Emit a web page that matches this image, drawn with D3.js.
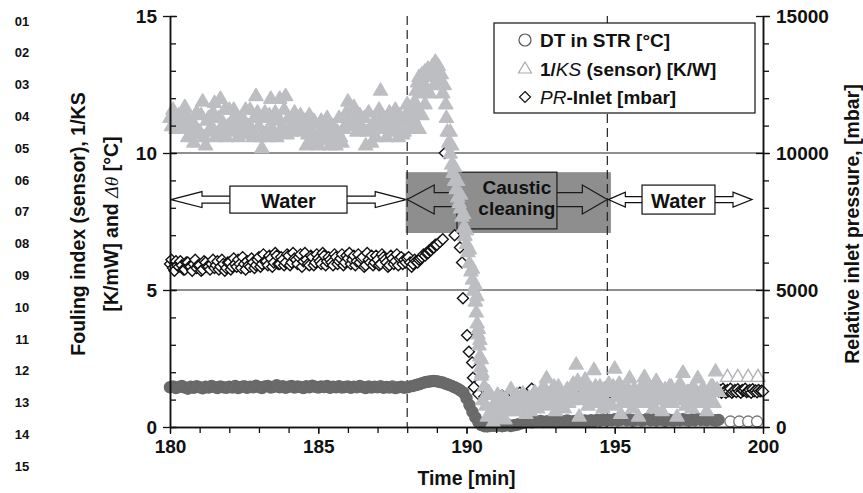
<!DOCTYPE html>
<html>
<head>
<meta charset="utf-8">
<script src="https://cdn.jsdelivr.net/npm/d3@7"></script>
<style>
  body { margin: 0; background: #fff; }
  svg { display: block; }
  text { font-family: "Liberation Sans", Arial, Helvetica, sans-serif; font-weight: bold; fill: #111; }
</style>
</head>
<body>
<svg width="863" height="493"></svg>
<script>
// ---- data ----
var xTicks = [180, 185, 190, 195, 200];
var yTicks = [0, 5, 10, 15];
var y2Ticks = [0, 5000, 10000, 15000];
var lineNumbers = ['01','02','03','04','05','06','07','08','09','10','11','12','13','14','15'];

// DT in STR [°C], sampled every 0.1 min from 180.0 to 198.5
var dtStart = 180, dtStep = 0.1;
var dtValues = [
  1.45, 1.48, 1.42, 1.46, 1.50, 1.44, 1.40, 1.47, 1.43, 1.49,
  1.45, 1.41, 1.47, 1.44, 1.50, 1.46, 1.42, 1.48, 1.45, 1.43,
  1.47, 1.44, 1.50, 1.42, 1.46, 1.49, 1.43, 1.47, 1.45, 1.51,
  1.46, 1.42, 1.48, 1.50, 1.44, 1.47, 1.52, 1.45, 1.49, 1.43,
  1.47, 1.50, 1.44, 1.48, 1.46, 1.42, 1.49, 1.45, 1.51, 1.47,
  1.44, 1.48, 1.46, 1.50, 1.43, 1.47, 1.45, 1.49, 1.44, 1.46,
  1.48, 1.43, 1.47, 1.45, 1.50, 1.46, 1.42, 1.48, 1.44, 1.47,
  1.45, 1.49, 1.43, 1.46, 1.44, 1.48, 1.42, 1.45, 1.47, 1.43,
  1.45, 1.48, 1.50, 1.53, 1.56, 1.60, 1.63, 1.65, 1.67, 1.68,
  1.67, 1.64, 1.62, 1.58, 1.54, 1.50, 1.45, 1.40, 1.33, 1.25,
  1.05, 0.80, 0.55, 0.35, 0.18, 0.07, 0.03, 0.02, 0.04, 0.05,
  0.04, 0.06, 0.03, 0.05, 0.07, 0.04, 0.06, 0.08, 0.12, 0.15,
  0.18, 0.20, 0.17, 0.21, 0.19, 0.22, 0.18, 0.20, 0.23, 0.19,
  0.21, 0.18, 0.22, 0.20, 0.24, 0.19, 0.21, 0.23, 0.20, 0.22,
  0.24, 0.21, 0.25, 0.22, 0.26, 0.23, 0.27, 0.24, 0.26, 0.25,
  0.28, 0.24, 0.26, 0.29, 0.25, 0.27, 0.23, 0.26, 0.28, 0.24,
  0.26, 0.29, 0.25, 0.27, 0.24, 0.28, 0.26, 0.23, 0.27, 0.25,
  0.24, 0.27, 0.25, 0.28, 0.26, 0.24, 0.27, 0.25, 0.29, 0.26,
  0.27, 0.25, 0.28, 0.26, 0.24, 0.26
];
// sparse readings at the end [time, value]
var dtTail = [[198.9, 0.2], [199.2, 0.2], [199.5, 0.2], [199.8, 0.2]];

// 1/KS (sensor) [K/W], every 0.1 min from 180.0 to 188.2 ...
var ksStart = 180, ksStep = 0.1;
var ksValues = [
  11.3, 11.6, 10.9, 11.4, 11.1, 11.7, 10.6, 11.2, 10.4, 11.5,
  10.8, 11.9, 10.3, 11.3, 11.0, 11.85, 10.7, 12.0, 11.1, 10.6,
  11.6, 10.9, 11.4, 10.6, 11.3, 11.2, 10.7, 11.6, 10.6, 12.1,
  11.0, 10.2, 11.5, 10.6, 12.0, 11.2, 10.6, 12.0, 11.0, 12.1,
  11.3, 10.8, 11.5, 11.0, 11.4, 10.9, 10.3, 11.4, 10.5, 11.1,
  10.3, 11.2, 10.5, 11.3, 10.3, 11.0, 10.3, 11.3, 10.4, 11.0,
  11.9, 11.1, 11.7, 10.8, 11.4, 10.9, 10.3, 11.5, 10.4, 11.2,
  11.0, 12.3, 11.2, 10.6, 11.5, 10.9, 11.6, 10.6, 11.2, 10.8,
  11.8, 10.9, 11.3
];
// ... and the readings in between, from 180.05 to 188.15
var ksStartB = 180.05;
var ksValuesB = [
  11.0, 11.4, 11.2, 10.9, 11.5, 10.9, 11.3, 10.7, 11.0, 10.8,
  11.4, 10.6, 11.2, 10.8, 11.5, 10.6, 11.3, 10.9, 11.6, 11.0,
  11.1, 11.6, 10.8, 11.2, 10.9, 11.6, 11.0, 10.9, 11.3, 11.5,
  10.6, 11.3, 10.8, 11.4, 10.9, 11.5, 11.3, 10.8, 11.6, 10.7,
  11.0, 11.3, 10.9, 11.2, 10.8, 11.2, 10.7, 10.9, 11.2, 10.4,
  10.8, 10.6, 11.0, 10.7, 10.9, 10.5, 10.8, 10.6, 10.9, 11.5,
  11.3, 11.5, 11.0, 11.2, 11.0, 11.3, 10.8, 10.9, 11.0, 10.6,
  11.6, 11.4, 10.9, 11.2, 10.8, 11.3, 11.0, 11.4, 10.7, 11.4,
  11.2, 11.6
];
// peak and drop during cleaning [time, value]
var ksPeak = [
  [188.25, 11.9], [188.3, 11.0], [188.3, 12.3], [188.35, 11.6], [188.35, 12.6],
  [188.4, 12.8], [188.4, 10.9], [188.45, 12.2], [188.5, 12.9], [188.5, 11.4],
  [188.55, 12.5], [188.6, 13.0], [188.6, 11.8], [188.65, 12.4], [188.7, 13.1],
  [188.75, 12.2], [188.8, 12.8], [188.85, 13.2], [188.9, 12.5], [188.95, 13.35],
  [189.0, 12.8], [189.05, 13.2], [189.1, 12.6], [189.15, 12.9], [189.2, 12.2],
  [189.25, 12.5], [189.3, 11.8], [189.32, 11.3], [189.35, 10.8], [189.4, 10.4],
  [189.45, 10.0], [189.45, 10.8], [189.5, 9.6], [189.5, 10.3], [189.55, 9.3],
  [189.6, 9.0], [189.6, 9.5], [189.65, 8.7], [189.7, 8.4], [189.7, 9.0],
  [189.75, 8.2], [189.8, 8.0], [189.8, 8.5], [189.85, 7.7], [189.9, 7.3],
  [189.9, 7.8], [189.95, 7.0], [190.0, 6.7], [190.0, 7.2], [190.05, 6.4],
  [190.1, 6.0], [190.1, 6.5], [190.15, 5.7], [190.2, 5.4], [190.2, 5.8],
  [190.25, 5.0], [190.3, 4.6], [190.3, 5.2], [190.33, 4.2], [190.35, 4.8],
  [190.36, 3.8], [190.39, 3.4], [190.4, 3.6], [190.42, 3.0], [190.45, 2.6],
  [190.45, 3.2], [190.48, 2.2], [190.5, 2.5], [190.52, 2.0]
];
// after cleaning, every 0.1 min from 190.5 to 198.5 ...
var ksPostStart = 190.5, ksPostStep = 0.1;
var ksPost = [
  1.9, 1.5, 0.4, 1.2, 0.2, 1.0, 0.6, 1.1, 0.3, 0.9,
  1.4, 0.6, 1.2, 0.8, 1.25, 0.5, 1.1, 0.9, 1.3, 0.7,
  1.0, 1.5, 1.8, 0.8, 1.3, 0.6, 1.5, 1.1, 0.7, 1.4,
  1.0, 1.6, 2.3, 0.4, 1.2, 1.75, 0.8, 1.4, 2.1, 0.9,
  1.5, 0.7, 1.3, 1.6, 0.8, 2.15, 1.2, 0.5, 1.4, 1.0,
  1.8, 0.7, 1.3, 0.4, 1.5, 1.85, 0.9, 1.4, 0.7, 1.7,
  1.1, 0.6, 1.4, 0.9, 1.5, 1.2, 0.4, 1.6, 2.0, 0.8,
  1.3, 0.7, 1.2, 1.8, 0.9, 1.4, 0.6, 1.1, 1.5, 2.05,
  1.3
];
// ... and in between, from 190.55 to 198.45
var ksPostStartB = 190.55;
var ksPostB = [
  1.0, 0.8, 1.3, 0.5, 0.8, 1.2, 0.4, 0.7, 1.0, 0.6,
  1.0, 0.9, 0.7, 1.1, 0.8, 1.0, 0.6, 1.15, 0.8, 1.1,
  1.3, 0.9, 1.2, 1.0, 1.5, 0.9, 1.2, 1.0, 1.3, 0.9,
  1.4, 1.1, 1.7, 1.0, 1.5, 1.1, 1.3, 0.9, 1.5, 1.2,
  1.1, 1.4, 0.9, 1.3, 1.5, 1.1, 1.6, 0.9, 1.2, 1.4,
  1.1, 1.4, 0.9, 1.3, 1.1, 1.5, 1.2, 0.9, 1.4, 1.1,
  1.4, 1.0, 1.2, 1.5, 0.9, 1.3, 1.1, 1.4, 1.0, 1.3,
  1.0, 1.5, 0.9, 1.2, 1.4, 1.0, 1.3, 1.5, 0.9, 1.4
];
var ksTail = [[198.8, 1.85], [199.15, 1.85], [199.5, 1.85], [199.83, 1.85]];

// PR-Inlet [mbar], every 0.1 min from 180.0 to 189.2 ...
var prStart = 180, prStep = 0.1;
var prValues = [
  5950, 5800, 6050, 5850, 5900, 5750, 6000, 5850, 5950, 5800,
  5900, 5750, 6000, 5850, 5950, 5800, 6050, 5850, 5950, 5800,
  6000, 5850, 5950, 6100, 5800, 5950, 6050, 5850, 6000, 5900,
  6200, 5950, 6050, 5900, 6150, 6000, 6250, 5950, 6100, 6000,
  6250, 6000, 6150, 5950, 6300, 6050, 6100, 5900, 6200, 6000,
  6150, 5950, 6250, 6050, 6100, 5900, 6200, 6050, 6300, 6000,
  6150, 5950, 6250, 6050, 6000, 6200, 5900, 6100, 6250, 6000,
  6100, 5950, 6200, 6000, 5900, 6150, 6050, 5900, 6200, 6100,
  6150, 6000, 5950, 6050, 6100, 6200, 6250, 6350, 6450, 6550,
  6650, 6750, 6850
];
// ... and in between, from 180.05 to 188.95
var prStartB = 180.05;
var prValuesB = [
  6100, 5700, 5900, 6050, 5750, 6000, 5850, 5700, 6100, 5900,
  5700, 6050, 5850, 5750, 6100, 5900, 5750, 6100, 5700, 6000,
  5750, 6150, 5850, 5950, 6200, 5750, 5900, 6150, 5800, 6100,
  5850, 6300, 6050, 6250, 5850, 6350, 5950, 6200, 5900, 6300,
  5900, 6350, 6100, 6200, 5850, 6350, 5950, 6250, 5900, 6300,
  6050, 6350, 5900, 6200, 6000, 6300, 5950, 6150, 5900, 6250,
  6350, 6100, 5900, 6300, 6150, 5850, 6350, 6000, 5900, 6250,
  5900, 6300, 6100, 5850, 6250, 5950, 6300, 6150, 5950, 6000,
  6200, 5850, 6100, 6000, 6150, 6300, 6350, 6450, 6550, 6650
];
var prDrop = [
  [189.27, 10000], [189.6, 7000], [189.78, 6550], [189.85, 6000], [189.88, 4700],
  [190.02, 3350], [190.08, 2750], [190.19, 2350], [190.22, 1800], [190.25, 1450]
];
// every 0.2 min from 190.4 to 198.4
var prPostStart = 190.4, prPostStep = 0.2;
var prPost = [
  1200, 1100, 900, 1050, 1150, 1100, 1200, 1250, 1100, 1400,
  1150, 1250, 1100, 1200, 1150, 1300, 1150, 1100, 1200, 1150,
  1200, 1100, 1250, 1150, 1100, 1200, 1150, 1250, 1100, 1200,
  1150, 1100, 1250, 1150, 1200, 1100, 1150, 1200, 1150, 1250,
  1300
];
// every 0.05 min from 198.5 to 200
var prTailStart = 198.5, prTailStep = 0.05;
var prTail = [
  1300, 1350, 1250, 1400, 1300, 1250, 1350, 1300, 1400, 1250,
  1300, 1350, 1280, 1380, 1300, 1250, 1350, 1320, 1400, 1280,
  1300, 1350, 1250, 1380, 1300, 1330, 1270, 1350, 1300, 1320,
  1300
];

// phase markers
var phaseLines = [188, 194.75];
var legendItems = ['dt', 'ks', 'pr'];

// ---- layout ----
var width = 863, height = 493;
var margin = {top: 16, right: 100, bottom: 66, left: 170};

var xScale = d3.scaleLinear().domain([180, 200]).range([margin.left, width - margin.right]);
var yScale = d3.scaleLinear().domain([0, 15]).range([height - margin.bottom, margin.top]);
var y2Scale = d3.scaleLinear().domain([0, 15000]).range([height - margin.bottom, margin.top]);

var svg = d3.select('svg');

function series(start, step, vals) {
  return vals.map((v, i) => ({t: start + i * step, v: v}));
}
function pairs(arr) {
  return arr.map(d => ({t: d[0], v: d[1]}));
}

// gridlines at 5 and 10
svg.append('g').selectAll('line')
  .data([5, 10])
  .enter().append('line')
  .attr('x1', xScale(180)).attr('x2', xScale(200))
  .attr('y1', d => yScale(d)).attr('y2', d => yScale(d))
  .attr('stroke', '#6a6a6a').attr('stroke-width', 1.4);

// ---- annotations ----
var ann = svg.append('g');

function arrow(g, xBase, xTip, yc, shaftH, headLen, headH, fill, stroke) {
  var s = xTip > xBase ? 1 : -1;
  var xb = xTip - s * headLen;
  var pts = [[xBase, yc - shaftH], [xb, yc - shaftH], [xb, yc - headH], [xTip, yc],
             [xb, yc + headH], [xb, yc + shaftH], [xBase, yc + shaftH]];
  g.append('polygon')
    .attr('points', pts.map(p => p.join(',')).join(' '))
    .attr('fill', fill).attr('stroke', stroke).attr('stroke-width', 1.2);
}

// left "Water"
var wy = yScale(8.3);
arrow(ann, xScale(182.1), xScale(180) + 1, wy, 3.5, 31, 8, '#fff', '#111');
arrow(ann, xScale(185.9), xScale(188) - 1, wy, 3.5, 31, 8, '#fff', '#111');
ann.append('rect')
  .attr('x', xScale(182.02)).attr('y', wy - 13.5)
  .attr('width', xScale(185.97) - xScale(182.02)).attr('height', 27)
  .attr('fill', '#fff').attr('stroke', '#111').attr('stroke-width', 1.2);
ann.append('text')
  .attr('x', (xScale(182.02) + xScale(185.97)) / 2).attr('y', wy + 1)
  .attr('text-anchor', 'middle').attr('dominant-baseline', 'central')
  .attr('font-size', 20).text('Water');

// caustic cleaning
var cGray = '#8e8e8e';
ann.append('rect')
  .attr('x', xScale(187.95)).attr('y', yScale(9.3))
  .attr('width', xScale(194.87) - xScale(187.95)).attr('height', yScale(7.08) - yScale(9.3))
  .attr('fill', cGray);
arrow(ann, xScale(189.8), xScale(188), wy, 7, 27, 14.5, cGray, '#1a1a1a');
arrow(ann, xScale(192.95), xScale(194.75), wy, 7, 25, 14.5, cGray, '#1a1a1a');
ann.append('rect')
  .attr('x', xScale(189.68)).attr('y', yScale(9.3))
  .attr('width', xScale(193.05) - xScale(189.68)).attr('height', yScale(7.23) - yScale(9.3))
  .attr('fill', cGray).attr('stroke', '#1a1a1a').attr('stroke-width', 1.2);
ann.append('text')
  .attr('x', xScale(191.7)).attr('y', yScale(8.75))
  .attr('text-anchor', 'middle').attr('dominant-baseline', 'central')
  .attr('font-size', 19).attr('fill', '#1a1a1a').text('Caustic');
ann.append('text')
  .attr('x', xScale(191.7)).attr('y', yScale(7.98))
  .attr('text-anchor', 'middle').attr('dominant-baseline', 'central')
  .attr('font-size', 19).attr('fill', '#1a1a1a').text('cleaning');

// right "Water"
arrow(ann, xScale(196.0), xScale(194.75) + 1, wy, 3, 17, 7.5, '#fff', '#111');
arrow(ann, xScale(198.3), xScale(199.63), wy, 3, 19, 7.5, '#fff', '#111');
ann.append('rect')
  .attr('x', xScale(195.92)).attr('y', wy - 14.5)
  .attr('width', xScale(198.38) - xScale(195.92)).attr('height', 29)
  .attr('fill', '#fff').attr('stroke', '#111').attr('stroke-width', 1.2);
ann.append('text')
  .attr('x', (xScale(195.92) + xScale(198.38)) / 2).attr('y', wy + 1)
  .attr('text-anchor', 'middle').attr('dominant-baseline', 'central')
  .attr('font-size', 20).text('Water');

// dashed phase lines
svg.append('g').selectAll('line')
  .data(phaseLines)
  .enter().append('line')
  .attr('x1', d => xScale(d)).attr('x2', d => xScale(d))
  .attr('y1', yScale(15)).attr('y2', yScale(0))
  .attr('stroke', '#222').attr('stroke-width', 1.2)
  .attr('stroke-dasharray', '9,5');

// ---- markers ----
var triPath = 'M0,-7L7,5L-7,5Z';
var diaPath = 'M0,-5.5L5.5,0L0,5.5L-5.5,0Z';
var ksGray = '#bdbec1';

var dtData = series(dtStart, dtStep, dtValues);
var ksData = series(ksStart, ksStep, ksValues)
  .concat(series(ksStartB, ksStep, ksValuesB))
  .concat(pairs(ksPeak))
  .concat(series(ksPostStart, ksPostStep, ksPost))
  .concat(series(ksPostStartB, ksPostStep, ksPostB));
var prData = series(prStart, prStep, prValues)
  .concat(series(prStartB, prStep, prValuesB))
  .concat(pairs(prDrop))
  .concat(series(prPostStart, prPostStep, prPost))
  .concat(series(prTailStart, prTailStep, prTail));
ksData.sort((a, b) => a.t - b.t);
prData.sort((a, b) => a.t - b.t);

// DT circles
svg.append('g').selectAll('circle')
  .data(dtData)
  .enter().append('circle')
  .attr('cx', d => xScale(d.t)).attr('cy', d => yScale(d.v)).attr('r', 5.5)
  .attr('fill', '#6b6b6b').attr('stroke', '#686868').attr('stroke-width', 1.5);
svg.append('g').selectAll('circle')
  .data(pairs(dtTail))
  .enter().append('circle')
  .attr('cx', d => xScale(d.t)).attr('cy', d => yScale(d.v)).attr('r', 5.5)
  .attr('fill', '#fff').attr('stroke', '#777').attr('stroke-width', 1.3);

// PR diamonds
svg.append('g').selectAll('path')
  .data(prData)
  .enter().append('path')
  .attr('d', diaPath)
  .attr('transform', d => 'translate(' + [xScale(d.t), y2Scale(d.v)] + ')')
  .attr('fill', '#fff').attr('stroke', '#111').attr('stroke-width', 1.4);

// 1/KS triangles
svg.append('g').selectAll('path')
  .data(ksData)
  .enter().append('path')
  .attr('d', triPath)
  .attr('transform', d => 'translate(' + [xScale(d.t), yScale(d.v)] + ')')
  .attr('fill', ksGray).attr('stroke', ksGray).attr('stroke-width', 1.4)
  .attr('stroke-linejoin', 'round');
svg.append('g').selectAll('path')
  .data(pairs(ksTail))
  .enter().append('path')
  .attr('d', triPath)
  .attr('transform', d => 'translate(' + [xScale(d.t), yScale(d.v)] + ')')
  .attr('fill', '#fff').attr('stroke', '#b1b2b5').attr('stroke-width', 1.3);

// ---- axes ----
function styleAxis(g) {
  g.select('.domain').attr('stroke', '#111').attr('stroke-width', 1.5);
  g.selectAll('.tick line').attr('stroke', '#111').attr('stroke-width', 1.3);
  g.selectAll('.tick text').attr('font-size', 19).attr('font-weight', 'bold')
    .attr('font-family', '"Liberation Sans", Arial, sans-serif').attr('fill', '#111');
}

// left
var yMinor = d3.axisLeft(yScale).tickValues(d3.range(0, 16, 1)).tickSize(-6).tickSizeOuter(0).tickFormat('');
svg.append('g').attr('transform', 'translate(' + [margin.left, 0] + ')').call(yMinor).call(styleAxis);
var yAxis = d3.axisLeft(yScale).tickValues(yTicks).tickSize(7).tickSizeOuter(0).tickPadding(6);
var gy = svg.append('g').attr('transform', 'translate(' + [margin.left, 0] + ')').call(yAxis).call(styleAxis);
gy.selectAll('.tick line').attr('x1', 7).attr('x2', -7);

// right
var x200 = width - margin.right;
var y2Minor = d3.axisRight(y2Scale).tickValues(d3.range(0, 15001, 1000)).tickSize(6).tickSizeOuter(0).tickFormat('');
svg.append('g').attr('transform', 'translate(' + [x200, 0] + ')').call(y2Minor).call(styleAxis);
var y2Axis = d3.axisRight(y2Scale).tickValues(y2Ticks).tickSize(7).tickSizeOuter(0).tickPadding(6).tickFormat(d3.format('d'));
var gy2 = svg.append('g').attr('transform', 'translate(' + [x200, 0] + ')').call(y2Axis).call(styleAxis);
gy2.selectAll('.tick line').attr('x1', -7).attr('x2', 7);

// bottom
var yBase = height - margin.bottom;
var xMinor = d3.axisBottom(xScale).tickValues(d3.range(180, 201, 1)).tickSize(6).tickSizeOuter(0).tickFormat('');
svg.append('g').attr('transform', 'translate(' + [0, yBase] + ')').call(xMinor).call(styleAxis);
var xAxis = d3.axisBottom(xScale).tickValues(xTicks).tickSize(7).tickSizeOuter(0).tickPadding(6);
svg.append('g').attr('transform', 'translate(' + [0, yBase] + ')').call(xAxis).call(styleAxis);

// axis titles
svg.append('text')
  .attr('x', (xScale(180) + xScale(200)) / 2).attr('y', 478)
  .attr('text-anchor', 'middle').attr('dominant-baseline', 'central')
  .attr('font-size', 19.5).text('Time [min]');

var leftTitle = svg.append('g').attr('transform', 'translate(78,224) rotate(-90)');
leftTitle.append('text')
  .attr('text-anchor', 'middle').attr('dominant-baseline', 'central')
  .attr('font-size', 19.5).text('Fouling index (sensor), 1/KS');
var lt2 = leftTitle.append('text')
  .attr('y', 33)
  .attr('text-anchor', 'middle').attr('dominant-baseline', 'central')
  .attr('font-size', 19.5);
lt2.append('tspan').text('[K/mW] and ');
lt2.append('tspan').attr('font-family', '"Liberation Serif", "Times New Roman", serif')
  .attr('font-style', 'italic').attr('font-weight', 'normal').text('Δθ');
lt2.append('tspan').text(' [°C]');

svg.append('g').attr('transform', 'translate(852,224) rotate(-90)')
  .append('text')
  .attr('text-anchor', 'middle').attr('dominant-baseline', 'central')
  .attr('font-size', 19.5).text('Relative inlet pressure, [mbar]');

// line numbers at the page margin
svg.append('g').selectAll('text')
  .data(lineNumbers)
  .enter().append('text')
  .attr('x', 22).attr('y', (d, i) => 21 + i * 31.8)
  .attr('text-anchor', 'middle').attr('dominant-baseline', 'central')
  .attr('font-family', '"Liberation Serif", "Times New Roman", serif')
  .attr('font-weight', 'normal').attr('font-size', 13).attr('fill', '#333')
  .text(d => d);

// ---- legend ----
var lg = svg.append('g').attr('transform', 'translate(494,23)');
lg.append('rect').attr('width', 261).attr('height', 90)
  .attr('fill', '#fff').attr('stroke', '#111').attr('stroke-width', 1.2);
var rows = lg.selectAll('g.row')
  .data(legendItems)
  .enter().append('g').attr('class', 'row')
  .attr('transform', (d, i) => 'translate(0,' + (17 + i * 28.5) + ')');
rows.each(function(d) {
  var r = d3.select(this);
  if (d === 'dt') {
    r.append('circle').attr('cx', 31).attr('r', 6).attr('fill', '#fff').attr('stroke', '#555').attr('stroke-width', 1.2);
  } else if (d === 'ks') {
    r.append('path').attr('d', 'M0,-6.5L6.5,4.5L-6.5,4.5Z').attr('transform', 'translate(31,0)').attr('fill', '#fff').attr('stroke', '#aaa').attr('stroke-width', 1.2);
  } else {
    r.append('path').attr('d', diaPath).attr('transform', 'translate(31,0)').attr('fill', '#fff').attr('stroke', '#111').attr('stroke-width', 1.2);
  }
  var t = r.append('text').attr('x', 46).attr('dominant-baseline', 'central').attr('font-size', 19);
  if (d === 'dt') {
    t.text('DT in STR [°C]');
  } else if (d === 'ks') {
    t.append('tspan').text('1/');
    t.append('tspan').attr('font-style', 'italic').attr('font-weight', 'normal').text('KS');
    t.append('tspan').text(' (sensor) [K/W]');
  } else {
    t.append('tspan').attr('font-style', 'italic').attr('font-weight', 'normal').text('PR');
    t.append('tspan').text('-Inlet [mbar]');
  }
});
</script>
</body>
</html>
